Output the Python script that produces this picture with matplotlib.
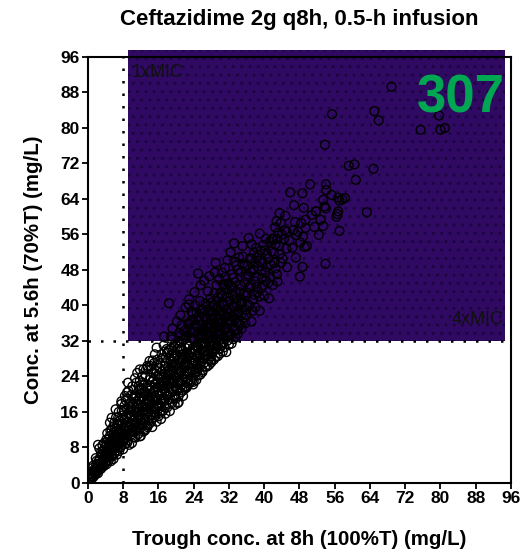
import matplotlib.pyplot as plt
import matplotlib.patches as mpatches
import numpy as np

plt.rcParams["font.family"] = ["Liberation Sans", "DejaVu Sans"]

# simulated patients: (trough conc. at 8h, conc. at 5.6h), mg/L
band_0_8 = [
    (0.2, 0.8), (0.4, 1.5), (0.6, 1.1), (0.8, 2.0), (1.0, 1.6), (1.2, 2.6), (1.3, 1.4),
    (1.5, 3.1), (1.6, 2.2), (1.8, 2.8), (1.9, 4.2), (0.3, 2.2), (1.1, 3.4), (1.7, 1.9),
    (2.1, 2.5), (2.2, 3.6), (2.4, 4.8), (2.5, 2.9), (2.7, 5.6), (2.8, 4.0), (3.0, 3.2),
    (3.1, 6.4), (3.2, 4.6), (3.4, 5.2), (3.5, 7.4), (3.6, 3.8), (3.8, 6.0), (3.9, 4.4),
    (2.6, 7.8), (3.3, 8.5), (3.7, 9.0), (2.3, 8.6),
    (4.0, 5.5), (4.1, 7.0), (4.2, 4.2), (4.3, 8.6), (4.5, 6.2), (4.6, 9.8), (4.7, 5.0),
    (4.9, 7.6), (5.0, 10.6), (5.1, 6.8), (5.2, 4.9), (5.3, 8.9), (5.4, 12.0), (5.5, 6.0),
    (5.6, 10.0), (5.7, 7.8), (5.8, 5.4), (5.9, 11.4), (4.4, 11.2), (5.0, 13.6), (5.4, 14.7),
    (4.8, 9.0),
    (6.0, 6.6), (6.1, 9.0), (6.2, 12.4), (6.3, 7.8), (6.4, 14.8), (6.5, 10.4), (6.6, 6.4),
    (6.7, 13.2), (6.8, 8.6), (6.9, 11.6), (7.0, 16.0), (7.1, 7.2), (7.2, 10.0), (7.3, 14.0),
    (7.4, 12.2), (7.5, 8.4), (7.6, 17.8), (7.7, 11.0), (7.8, 15.2), (7.9, 9.4), (6.3, 16.6),
    (7.0, 13.0), (7.6, 18.4), (6.8, 10.0), (7.2, 11.8),
    (0.5, 1.2), (0.9, 1.0), (1.4, 2.4), (2.0, 3.4), (2.3, 2.2), (2.9, 3.6), (3.3, 4.0),
    (3.6, 5.4), (2.0, 5.0), (1.2, 3.9), (2.6, 4.4), (3.9, 6.8), (3.0, 7.0), (1.8, 5.6),
    (3.5, 5.0),
    (4.1, 5.0), (4.4, 6.6), (4.6, 8.2), (4.9, 5.8), (5.2, 9.4), (5.5, 7.2), (5.8, 8.4),
    (6.1, 10.8), (6.4, 9.2), (6.7, 7.4), (7.0, 11.0), (7.3, 9.0), (7.6, 13.0), (7.9, 10.6),
    (4.2, 9.8), (5.1, 11.8), (6.0, 13.6), (6.9, 14.8), (7.7, 16.2), (5.7, 12.6), (6.5, 11.6),
    (7.4, 8.0), (4.5, 7.6), (5.3, 6.3), (6.2, 8.0),
]

band_8_20 = [
    (8.0, 7.6), (8.1, 12.6), (8.2, 16.4), (8.3, 10.2), (8.4, 14.2), (8.5, 8.8), (8.6, 18.6),
    (8.7, 11.4), (8.8, 13.6), (8.9, 20.4), (9.0, 9.6), (9.1, 15.6), (9.2, 12.0), (9.3, 17.2),
    (9.4, 8.6), (9.5, 14.6), (9.1, 22.6), (9.7, 10.8), (9.8, 16.8), (9.9, 13.0), (8.4, 19.6),
    (9.0, 19.0), (9.5, 11.2), (8.8, 15.0), (9.8, 19.8),
    (10.0, 9.0), (10.1, 14.0), (10.2, 18.0), (10.3, 11.6), (10.4, 21.0), (10.5, 15.4),
    (10.6, 12.8), (10.7, 23.6), (10.8, 10.2), (10.9, 17.0), (11.0, 19.6), (11.1, 13.4),
    (11.2, 24.8), (11.3, 16.0), (11.4, 11.0), (11.5, 21.8), (11.6, 14.6), (11.7, 18.6),
    (11.8, 12.2), (11.9, 20.2), (11.8, 25.6), (11.8, 10.5), (11.5, 16.8), (10.8, 13.2),
    (11.8, 23.0), (10.5, 19.0),
    (8.2, 9.6), (8.5, 11.8), (8.8, 10.4), (9.1, 13.8), (9.4, 12.4), (9.7, 15.2), (10.0, 11.8),
    (10.3, 16.4), (10.6, 14.2), (10.9, 12.0), (11.2, 17.8), (11.5, 15.0), (11.8, 19.2),
    (8.3, 17.4), (9.2, 20.8), (10.1, 21.8), (11.0, 22.6), (11.9, 14.2), (8.9, 9.0),
    (10.4, 10.4), (11.4, 12.6), (9.6, 17.8), (10.7, 19.4), (11.7, 21.0),
    (12.0, 10.6), (12.1, 15.2), (12.2, 19.4), (12.3, 13.0), (12.4, 22.6), (12.5, 17.4),
    (12.6, 25.6), (12.7, 14.2), (12.8, 20.6), (12.9, 11.8), (13.0, 18.0), (13.1, 24.0),
    (13.2, 15.8), (13.3, 21.4), (13.4, 13.0), (13.5, 26.4), (13.6, 17.0), (13.7, 19.8),
    (13.8, 14.6), (13.9, 23.2), (14.0, 27.5), (13.2, 12.2), (12.8, 16.4), (13.6, 26.0),
    (12.2, 21.2), (13.0, 20.0), (13.8, 18.4),
    (12.1, 13.6), (12.4, 16.0), (12.7, 18.6), (13.0, 14.4), (13.3, 17.6), (13.6, 21.6),
    (13.9, 16.0), (14.2, 19.4), (14.5, 17.8), (14.8, 24.8), (15.1, 16.0), (15.4, 21.2),
    (15.7, 18.6), (12.3, 24.0), (13.2, 25.6), (14.1, 26.4), (15.0, 27.0), (15.9, 22.6),
    (12.6, 11.6), (13.5, 12.6), (14.4, 14.0), (15.3, 15.2), (12.9, 20.4), (14.0, 20.8),
    (15.6, 25.2),
    (14.0, 13.4), (14.1, 18.6), (14.2, 22.0), (14.3, 15.4), (14.4, 25.6), (14.5, 20.0),
    (14.6, 12.6), (14.7, 27.6), (14.8, 17.2), (14.9, 23.4), (15.0, 14.8), (15.1, 20.8),
    (15.2, 29.0), (15.3, 16.6), (15.4, 24.6), (15.5, 19.0), (15.6, 13.8), (15.7, 26.6),
    (15.8, 21.6), (15.9, 17.8), (15.6, 30.5), (14.6, 22.8), (15.2, 18.4), (14.4, 16.6),
    (15.8, 24.0), (14.9, 20.6),
    (16.0, 15.0), (16.1, 20.0), (16.2, 24.2), (16.3, 17.6), (16.4, 27.0), (16.5, 21.8),
    (16.6, 14.4), (16.7, 29.0), (16.8, 19.0), (16.9, 25.2), (17.0, 16.2), (17.1, 22.8),
    (17.2, 31.0), (17.3, 18.4), (17.4, 26.4), (17.5, 20.6), (17.6, 15.6), (17.7, 28.2),
    (17.8, 23.6), (17.9, 19.6), (16.3, 15.8), (16.5, 18.8), (17.5, 24.6), (16.8, 22.0),
    (17.9, 30.2), (17.3, 33.0),
    (16.1, 17.2), (16.4, 19.6), (16.7, 22.8), (17.0, 18.6), (17.3, 21.2), (17.6, 25.6),
    (17.9, 22.0), (18.2, 19.8), (18.5, 24.6), (18.8, 27.4), (19.1, 21.0), (19.4, 25.2),
    (19.7, 23.2), (16.2, 26.0), (17.1, 28.2), (18.0, 29.4), (18.9, 30.2), (19.8, 31.4),
    (16.6, 16.2), (17.5, 17.0), (18.4, 17.8), (19.3, 19.0), (16.9, 20.6), (18.1, 23.0),
    (19.0, 26.6), (17.7, 27.0),
    (18.0, 17.0), (18.1, 21.4), (18.2, 26.0), (18.3, 18.8), (18.4, 30.0), (18.5, 23.4),
    (18.6, 16.2), (18.7, 28.0), (18.8, 20.2), (18.9, 25.0), (19.0, 32.4), (19.1, 18.0),
    (19.2, 22.6), (19.3, 27.4), (19.4, 20.8), (19.5, 30.8), (19.6, 24.2), (19.7, 17.6),
    (19.8, 26.6), (19.9, 21.8), (18.4, 40.5), (19.2, 34.8), (18.6, 22.4), (19.4, 29.2),
    (18.1, 24.6), (19.8, 19.6), (18.9, 33.0), (19.6, 28.0),
]

band_core = [
    (2.5, 3.4), (3.4, 4.6), (4.3, 5.8), (5.0, 7.0), (5.6, 8.8), (6.3, 9.8), (6.9, 9.2),
    (7.5, 11.4), (8.1, 11.0), (8.7, 12.6), (9.3, 11.2), (9.9, 14.8), (10.5, 13.4),
    (11.1, 15.8), (11.7, 16.0), (12.3, 17.0), (12.9, 15.4), (13.5, 18.8), (14.1, 17.0),
    (14.7, 19.2), (15.3, 22.4), (15.9, 20.4), (16.5, 23.8), (17.1, 21.8), (17.7, 23.0),
    (18.3, 25.4), (18.9, 23.6), (19.5, 26.0), (20.1, 26.8), (20.7, 23.2), (21.3, 28.4),
    (21.9, 26.8), (22.5, 29.4), (23.1, 31.0), (23.7, 30.0), (24.3, 30.2), (24.9, 35.0),
    (25.5, 31.0), (26.1, 33.2), (26.7, 36.8), (27.3, 34.0), (27.9, 37.2), (28.5, 36.0),
    (29.1, 39.0), (29.7, 35.8), (30.3, 40.4), (30.9, 38.0), (31.5, 43.6),
    (6.6, 12.2), (8.0, 14.6), (9.6, 16.4), (11.0, 18.4), (12.6, 22.0), (14.2, 23.8),
    (15.8, 27.8), (17.4, 29.6), (19.0, 28.8), (20.6, 32.0), (22.2, 32.8), (23.8, 38.0),
    (10.2, 12.4), (12.0, 14.2), (13.8, 16.2), (15.6, 17.0), (17.2, 19.0), (18.8, 21.2),
    (20.4, 22.8), (22.0, 24.6), (23.6, 27.0), (25.2, 27.6), (26.8, 30.6), (28.4, 32.6),
    (30.0, 33.6),
]

band_20_32 = [
    (20.0, 19.0), (20.1, 23.8), (20.2, 28.6), (20.3, 21.0), (20.4, 31.6), (20.5, 25.8),
    (20.6, 18.2), (20.7, 33.8), (20.8, 22.4), (20.9, 27.0), (21.0, 30.0), (21.1, 20.4),
    (21.2, 25.0), (21.3, 35.6), (21.4, 23.0), (21.5, 29.0), (21.6, 19.6), (21.7, 32.2),
    (21.8, 26.4), (21.9, 21.6), (20.2, 36.4), (21.0, 37.8), (20.6, 24.6), (21.4, 27.8),
    (20.8, 30.8), (21.8, 34.2), (20.4, 18.0), (21.2, 22.0),
    (20.1, 21.2), (20.4, 24.6), (20.7, 27.8), (21.0, 22.6), (21.3, 26.0), (21.6, 29.8),
    (21.9, 24.0), (22.2, 27.2), (22.5, 31.0), (22.8, 26.4), (23.1, 29.4), (23.4, 32.6),
    (23.7, 28.4), (20.3, 30.2), (21.2, 33.4), (22.1, 34.4), (23.0, 35.8), (23.9, 36.8),
    (20.6, 19.6), (21.5, 20.8), (22.4, 21.8), (23.3, 23.2), (20.9, 25.2), (22.0, 28.6),
    (23.6, 25.8), (21.7, 23.4),
    (22.0, 21.2), (22.1, 26.2), (22.2, 30.4), (22.3, 23.4), (22.4, 33.2), (22.5, 28.0),
    (22.4, 21.5), (22.7, 36.0), (22.8, 24.8), (22.9, 31.0), (23.0, 22.4), (23.1, 27.2),
    (23.2, 34.6), (23.3, 25.6), (23.4, 29.6), (23.5, 38.6), (23.6, 23.0), (23.7, 32.6),
    (23.8, 27.0), (23.9, 22.2), (22.2, 39.6), (23.0, 41.4), (22.5, 25.2), (23.4, 36.6),
    (22.8, 28.6), (23.8, 30.4), (22.6, 22.8), (23.6, 34.0), (22.9, 40.2),
    (24.0, 22.8), (24.1, 27.6), (24.2, 32.4), (24.3, 25.0), (24.4, 35.6), (24.5, 29.8),
    (24.6, 23.2), (24.7, 38.4), (24.8, 26.6), (24.9, 33.4), (25.0, 47.2), (25.0, 24.2),
    (25.1, 30.6), (25.2, 36.8), (25.3, 28.2), (25.4, 41.0), (25.5, 24.4), (25.6, 34.4),
    (25.7, 27.2), (25.8, 39.2), (25.9, 31.4), (24.2, 43.0), (24.8, 25.2), (25.6, 44.6),
    (24.6, 31.0), (25.2, 33.0), (24.4, 40.0), (26.0, 25.0),
    (24.1, 24.4), (24.4, 27.6), (24.7, 30.8), (25.0, 26.0), (25.3, 29.2), (25.6, 32.6),
    (25.9, 28.0), (26.2, 30.8), (26.5, 34.6), (26.8, 29.6), (27.1, 33.2), (27.4, 35.8),
    (27.7, 32.0), (24.3, 34.0), (25.2, 37.6), (26.1, 38.2), (27.0, 39.8), (27.9, 40.6),
    (24.6, 25.6), (25.5, 26.8), (26.4, 28.0), (27.3, 28.8), (24.9, 28.6), (26.0, 31.6),
    (27.6, 30.0), (25.8, 35.6),
    (26.0, 25.4), (26.1, 29.6), (26.2, 34.0), (26.3, 27.0), (26.4, 37.6), (26.5, 31.8),
    (26.6, 26.2), (26.7, 40.4), (26.8, 28.8), (26.9, 35.2), (27.0, 26.2), (27.1, 32.4),
    (27.2, 43.2), (27.3, 29.8), (27.4, 38.6), (27.5, 26.6), (27.6, 36.0), (27.7, 30.8),
    (27.8, 41.6), (27.9, 27.6), (26.4, 45.6), (27.0, 33.8), (27.6, 46.6), (26.8, 31.2),
    (27.8, 35.0), (26.2, 39.0), (27.4, 28.0),
    (28.0, 27.2), (28.1, 32.0), (28.2, 36.6), (28.3, 29.4), (28.4, 40.0), (28.5, 34.2),
    (28.6, 27.8), (28.7, 42.8), (28.8, 31.0), (28.8, 47.4), (28.9, 37.6), (29.0, 28.4),
    (29.1, 35.0), (29.2, 44.6), (29.3, 32.4), (29.4, 39.6), (29.5, 28.6), (29.6, 41.8),
    (29.7, 33.8), (29.8, 46.0), (29.9, 30.2), (28.4, 38.0), (29.0, 49.6), (29.6, 36.2),
    (28.2, 30.6), (29.8, 38.8),
    (28.1, 28.6), (28.4, 31.6), (28.7, 34.6), (29.0, 30.2), (29.3, 33.6), (29.6, 37.0),
    (29.9, 32.4), (30.2, 35.0), (30.5, 38.6), (30.8, 31.6), (31.1, 35.0), (31.4, 39.0),
    (31.7, 34.0), (28.3, 38.6), (29.2, 41.0), (30.1, 42.8), (31.0, 44.6), (31.9, 45.0),
    (28.6, 29.8), (29.5, 30.8), (30.4, 31.0), (28.9, 35.8), (30.0, 37.0), (31.5, 37.6),
    (29.8, 34.2), (30.7, 40.6),
    (30.0, 29.2), (30.1, 34.2), (30.2, 38.8), (30.3, 31.4), (30.4, 42.2), (30.5, 36.4),
    (30.6, 29.6), (30.7, 44.8), (30.8, 33.2), (30.9, 40.0), (31.0, 30.6), (31.1, 48.5),
    (31.1, 37.2), (31.2, 46.4), (31.3, 34.6), (31.4, 29.5), (31.5, 42.0), (31.6, 32.0),
    (31.7, 50.2), (31.8, 38.4), (31.9, 35.8), (30.4, 47.4), (31.0, 44.0), (31.6, 40.8),
    (30.2, 36.0), (31.8, 33.0),
]

band_32_50 = [
    (32.0, 31.2), (32.1, 36.2), (32.2, 41.0), (32.3, 33.6), (32.4, 44.4), (32.5, 38.6),
    (32.6, 31.4), (32.7, 47.0), (32.8, 35.0), (32.9, 42.4), (33.0, 32.4), (33.1, 39.6),
    (33.2, 49.8), (33.3, 36.8), (33.4, 45.2), (33.5, 32.8), (33.6, 43.0), (33.7, 49.0),
    (33.8, 38.2), (33.9, 34.4), (32.4, 52.0), (33.0, 46.2), (33.6, 40.6), (32.8, 37.6),
    (33.2, 54.0),
    (32.2, 33.2), (32.6, 36.6), (33.0, 40.0), (33.4, 34.6), (33.8, 41.6), (34.2, 36.0),
    (34.6, 44.6), (35.0, 38.2), (35.4, 42.6), (35.8, 46.6), (32.9, 44.0), (34.0, 48.0),
    (35.2, 49.4), (33.6, 37.8), (34.8, 41.0),
    (34.0, 33.6), (34.2, 38.4), (34.4, 43.0), (34.6, 35.6), (34.8, 47.6), (35.0, 40.6),
    (35.2, 51.0), (35.4, 37.2), (35.6, 45.2), (35.8, 42.2), (34.3, 50.8), (34.9, 34.8),
    (35.5, 48.8), (35.1, 53.4), (35.9, 39.0), (34.5, 40.4), (35.7, 36.0),
    (36.0, 37.8), (36.2, 42.8), (36.4, 46.8), (36.6, 40.0), (36.8, 50.6), (37.0, 44.6),
    (37.2, 53.8), (37.4, 38.8), (37.6, 48.0), (37.8, 42.4), (36.5, 55.2), (37.1, 36.4),
    (37.7, 51.8), (36.3, 49.0), (37.9, 45.4),
    (36.2, 40.4), (36.6, 44.2), (37.0, 47.6), (37.4, 41.2), (37.8, 49.6), (38.2, 46.6),
    (38.6, 43.0), (39.0, 50.0), (39.4, 47.8), (39.8, 44.6), (40.2, 52.4), (40.6, 48.6),
    (41.0, 50.6), (41.4, 46.4), (41.8, 54.8), (42.2, 51.8), (42.6, 48.4), (43.0, 55.0),
    (43.4, 53.4), (43.8, 49.6), (40.4, 45.6), (42.8, 59.0), (44.0, 56.0), (38.2, 53.0),
    (37.2, 50.6),
    (38.0, 39.6), (38.3, 44.2), (38.6, 48.8), (38.9, 42.0), (39.2, 52.4), (39.5, 46.2),
    (39.0, 56.2), (38.4, 50.8), (39.0, 38.8), (39.6, 49.8), (39.8, 53.6), (39.4, 44.0),
    (40.0, 42.2), (40.3, 47.4), (40.6, 51.6), (40.9, 45.0), (41.3, 54.4), (41.5, 49.2),
    (42.0, 55.1), (40.4, 55.0), (41.1, 41.6), (41.7, 52.2),
    (42.0, 44.6), (42.3, 49.6), (42.6, 53.8), (42.9, 47.0), (43.2, 56.4), (43.5, 51.6),
    (43.8, 58.6), (42.5, 57.6), (43.5, 60.8), (43.0, 45.4),
    (44.2, 50.6), (44.5, 55.0), (44.7, 57.0), (45.0, 52.8), (45.1, 56.6), (45.9, 65.5),
    (45.7, 54.6), (44.8, 60.2), (45.2, 48.6),
    (46.6, 57.0), (46.4, 53.0), (47.0, 58.8), (47.3, 55.9), (47.7, 56.6), (47.2, 50.8),
    (46.8, 62.6),
    (48.1, 46.5), (48.7, 48.7), (48.7, 65.3), (48.8, 55.5), (49.4, 59.3), (49.4, 57.5),
    (49.7, 53.4), (48.4, 58.6), (49.0, 62.0), (48.2, 54.2), (49.2, 53.2),
]

sparse_tail = [
    (50.4, 67.3), (51.4, 57.7), (51.7, 61.2), (50.8, 60.4), (51.8, 61.2), (52.4, 55.9),
    (52.8, 59.3), (53.4, 57.9), (53.4, 63.8), (53.7, 62.3), (53.9, 49.4), (53.8, 76.2),
    (54.0, 61.9), (54.0, 67.3), (54.1, 66.0), (55.3, 64.9), (55.4, 83.1), (56.8, 64.3),
    (56.4, 60.0), (56.6, 60.6), (56.8, 61.2), (57.1, 56.8), (57.1, 63.6), (57.7, 63.9),
    (58.3, 64.2), (59.2, 71.5), (60.5, 71.8), (60.8, 68.3), (63.3, 61.0), (64.8, 70.8),
    (65.0, 83.8), (66.0, 81.7), (68.9, 89.3), (75.5, 79.6), (79.7, 82.8), (80.0, 79.6),
    (81.0, 80.0),
]

groups = [band_0_8, band_8_20, band_core, band_20_32, band_32_50, sparse_tail]
pts = np.array([p for g in groups for p in g])
trough = pts[:, 0]
conc = pts[:, 1]

n_target = 307
mic_trough = 8
mic_conc = 32
ticks = list(range(0, 97, 8))
narrow = ["Liberation Sans Narrow", "Liberation Sans"]

fig = plt.figure(figsize=(5.23, 5.53), dpi=100)
ax = fig.add_axes([0.168, 0.1266, 0.809, 0.7704])

# target region: trough >= 1xMIC and 70%T conc >= 4xMIC
rect = mpatches.Rectangle((9.1, mic_conc), 85.6, 65.6, facecolor="#300a62",
                          edgecolor="none", clip_on=False, zorder=1)
ax.add_patch(rect)
rect_dots = mpatches.Rectangle((9.1, mic_conc), 85.6, 65.6, facecolor="none",
                               edgecolor="#1c0540", hatch="..", linewidth=0,
                               clip_on=False, zorder=1.1)
ax.add_patch(rect_dots)

ax.plot([mic_trough, mic_trough], [0, 96], color="black", linestyle=(0, (1, 4)),
        linewidth=1.8, zorder=2)
ax.plot([0, 96.5], [mic_conc, mic_conc], color="black", linestyle=(0, (1, 4)),
        linewidth=1.8, zorder=2, clip_on=False)

ax.scatter(trough, conc, s=40, facecolors="none", edgecolors="black",
           linewidths=1.0, zorder=3)

ax.text(10.0, 92.6, "1xMIC", fontsize=13, color="#101010", va="center", ha="left", zorder=4)
ax.text(94.3, 36.8, "4xMIC", fontsize=13, color="#101010", va="center", ha="right", zorder=4)
ax.text(84.6, 83.4, str(n_target), fontsize=38, fontweight="bold", color="#00a651",
        family=narrow, ha="center", va="baseline", zorder=4)

ax.set_xlim(0, 96)
ax.set_ylim(0, 96)
ax.set_xticks(ticks)
ax.set_yticks(ticks)
for lab in ax.get_xticklabels() + ax.get_yticklabels():
    lab.set_fontweight("bold")
    lab.set_fontsize(12.5)
    lab.set_family(narrow)
ax.tick_params(direction="out", length=4, width=1.3, pad=2)
for sp in ax.spines.values():
    sp.set_linewidth(1.5)
    sp.set_zorder(5)

ax.set_xlabel("Trough conc. at 8h (100%T) (mg/L)", fontsize=14.8, fontweight="bold", labelpad=17)
ax.set_ylabel("Conc. at 5.6h (70%T) (mg/L)", fontsize=14.8, fontweight="bold", labelpad=12)
ax.set_title("Ceftazidime 2g q8h, 0.5-h infusion", fontsize=16, fontweight="bold", pad=23)

fig.savefig("out.png", dpi=100)
